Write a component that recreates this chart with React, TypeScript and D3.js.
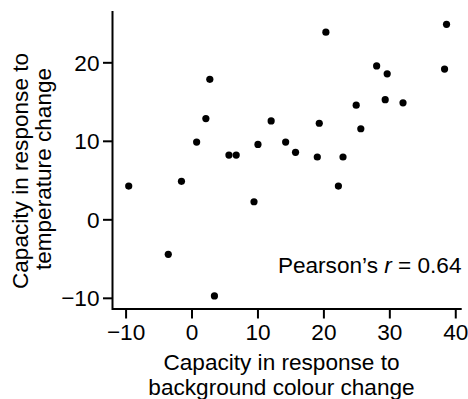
import React from "react";
import * as d3 from "d3";

const bgColourCapacity = [2.7, 2.1, 0.7, 5.6, 6.7, 12.0, 10.0, 14.2, 20.3, 38.6, 28.0, 29.6, 38.3, 24.9, 29.3, 32.0, 19.3, 25.6, 15.7, 19.0, 22.9, -9.6, -1.6, 9.4, -3.6, 3.4, 22.2];
const tempCapacity = [17.9, 12.9, 9.9, 8.25, 8.25, 12.6, 9.6, 9.9, 23.9, 24.9, 19.6, 18.6, 19.2, 14.6, 15.3, 14.9, 12.3, 11.6, 8.6, 8.0, 8.0, 4.3, 4.9, 2.3, -4.4, -9.7, 4.3];
const xTicks = [-10, 0, 10, 20, 30, 40];
const yTicks = [-10, 0, 10, 20];
const xTitle = ["Capacity in response to", "background colour change"];
const yTitle = ["Capacity in response to", "temperature change"];
const pearsonR = "0.64";

const W = 468;
const H = 399;
const FONT = "'Liberation Sans', Arial, Helvetica, sans-serif";
const FS = 22.6;

export default function App() {
  const left = 112.5;
  const right = 461.7;
  const top = 11;
  const bottom = 309;
  const x = d3.scaleLinear().domain([-12.06, 40.9]).range([left, right]);
  const y = d3.scaleLinear().domain([-11.36, 26.6]).range([bottom, top]);
  const fmt = d3.format("d");
  const data = bgColourCapacity.map((v, i) => ({ x: v, y: tempCapacity[i] }));

  return (
    <svg
      width={W}
      height={H}
      style={{ position: "absolute", left: 0, top: 0, display: "block" }}
      fontFamily={FONT}
    >
      <rect width={W} height={H} fill="#fff" />
      {/* axes */}
      <path
        d={`M${left},${top}V${bottom}H${right}`}
        fill="none"
        stroke="#000"
        strokeWidth={2}
      />
      {yTicks.map((t) => (
        <g key={"y" + t}>
          <line x1={left - 9.5} x2={left} y1={y(t)} y2={y(t)} stroke="#000" strokeWidth={2} />
          <text x={99.5} y={y(t)} dy="0.36em" textAnchor="end" fontSize={FS}>
            {fmt(t)}
          </text>
        </g>
      ))}
      {xTicks.map((t) => (
        <g key={"x" + t}>
          <line x1={x(t)} x2={x(t)} y1={bottom} y2={bottom + 9.5} stroke="#000" strokeWidth={2} />
          <text x={x(t)} y={339.5} textAnchor="middle" fontSize={FS}>
            {fmt(t)}
          </text>
        </g>
      ))}
      {/* points */}
      {data.map((d, i) => (
        <circle key={i} cx={x(d.x)} cy={y(d.y)} r={3.6} fill="#000" />
      ))}
      {/* annotation */}
      <text x={461.5} y={273} textAnchor="end" fontSize={FS}>
        Pearson’s <tspan fontStyle="italic">r</tspan> = {pearsonR}
      </text>
      {/* x title */}
      <text x={281.5} y={369.5} textAnchor="middle" fontSize={FS}>
        {xTitle[0]}
      </text>
      <text x={281.5} y={394.5} textAnchor="middle" fontSize={FS}>
        {xTitle[1]}
      </text>
      {/* y title */}
      <text transform="translate(27.5,171) rotate(-90)" textAnchor="middle" fontSize={FS}>
        {yTitle[0]}
      </text>
      <text transform="translate(50.5,169) rotate(-90)" textAnchor="middle" fontSize={FS}>
        {yTitle[1]}
      </text>
    </svg>
  );
}
